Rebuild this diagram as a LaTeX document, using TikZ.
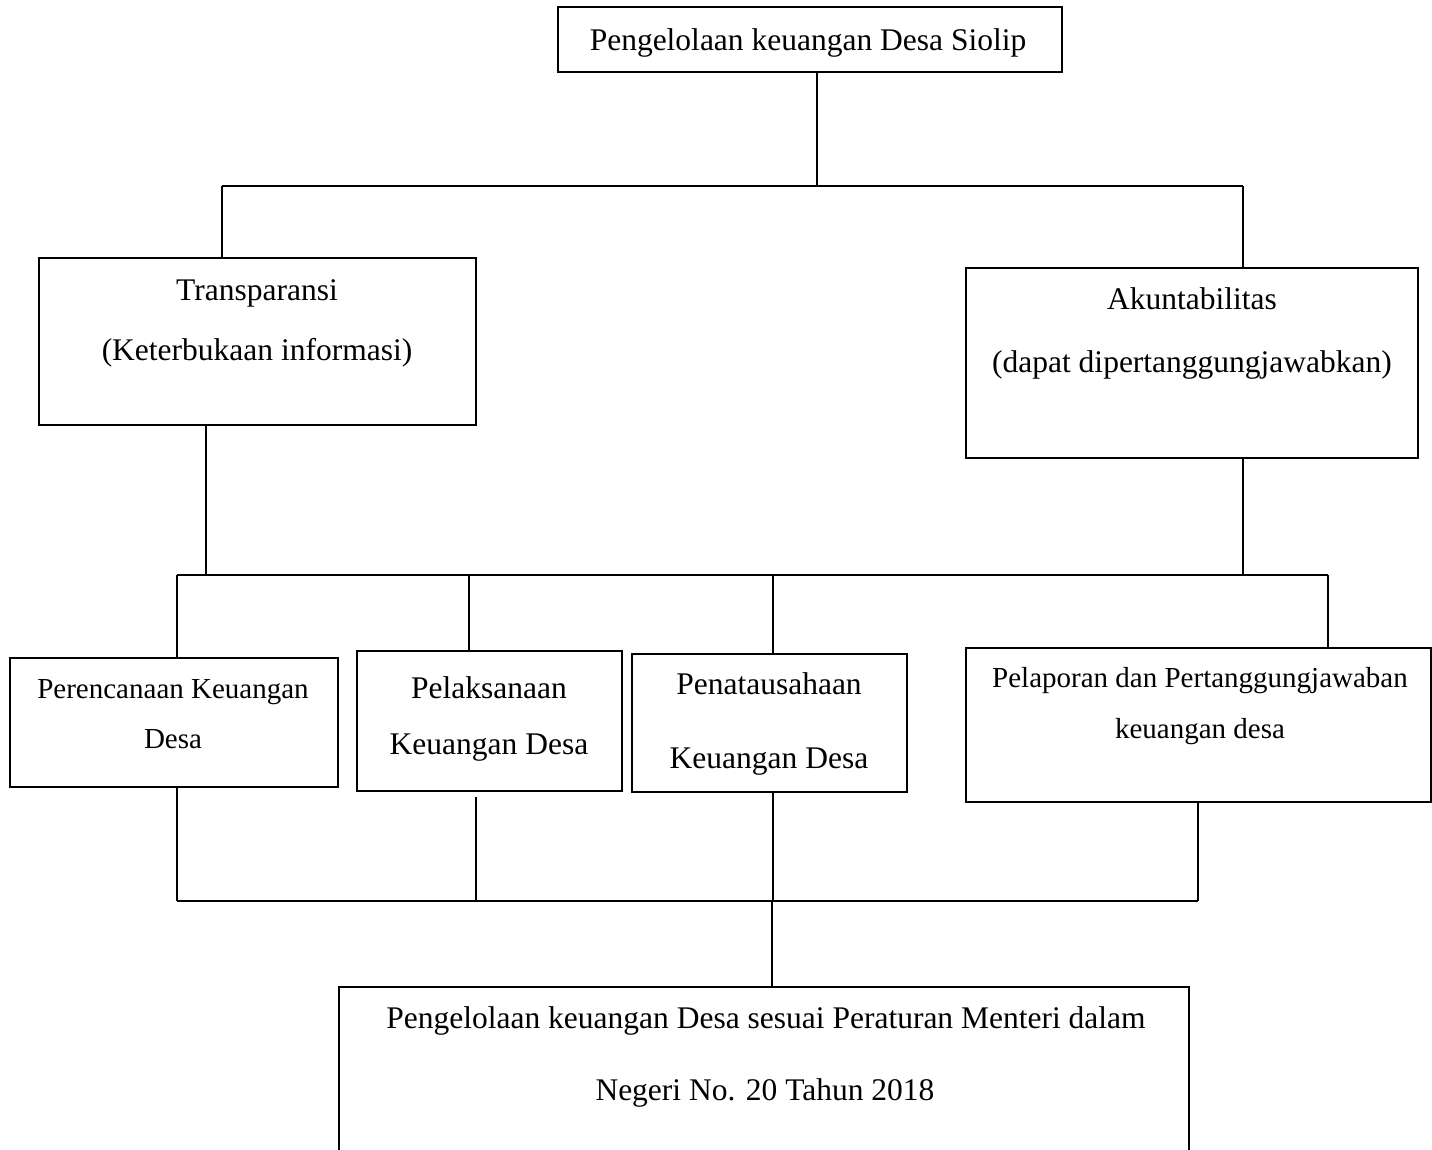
\documentclass[tikz,border=0pt]{standalone}
\usepackage{fontspec}
\setmainfont{Liberation Serif}
\begin{document}
\begin{tikzpicture}[x=1pt,y=-1pt,
  box/.style={draw,line width=1.3pt,inner sep=0pt},
  conn/.style={line width=1.3pt},
  txt/.style={inner sep=0pt,text height=0.66em,text depth=0pt,anchor=center,yshift=-7pt,font=\fontsize{31.5}{36}\selectfont},
  txts/.style={txt,font=\fontsize{29}{34}\selectfont}]
\path[use as bounding box,fill=white] (0,0) rectangle (1432,1149);
% boxes
\node[box,minimum width=504pt,minimum height=65pt] (top) at (810,39.5) {};
\node[box,minimum width=437pt,minimum height=167pt] (trans) at (257.5,341.5) {};
\node[box,minimum width=452pt,minimum height=190pt] (akun) at (1192,363) {};
\node[box,minimum width=328pt,minimum height=129pt] (pere) at (174,722.5) {};
\node[box,minimum width=265pt,minimum height=140pt] (pelak) at (489.5,721) {};
\node[box,minimum width=275pt,minimum height=138pt] (penat) at (769.5,723) {};
\node[box,minimum width=465pt,minimum height=154pt] (pelap) at (1198.5,725) {};
\node[box,minimum width=850pt,minimum height=180pt] (bot) at (764,1077) {};
% texts
\node[txt] (t1) at (808,40) {Pengelolaan keuangan Desa Siolip};
\node[txt] (t2) at (257,290) {Transparansi};
\node[txt] (t3) at (257,350) {(Keterbukaan informasi)};
\node[txt] (t4) at (1192,299) {Akuntabilitas};
\node[txt] (t5) at (1192,362) {(dapat dipertanggungjawabkan)};
\node[txts] (t6) at (173,688) {Perencanaan Keuangan};
\node[txts] (t7) at (173,738) {Desa};
\node[txt] (t8) at (489,688) {Pelaksanaan};
\node[txt] (t9) at (489,744) {Keuangan Desa};
\node[txt] (t10) at (769,684) {Penatausahaan};
\node[txt] (t11) at (769,758) {Keuangan Desa};
\node[txts] (t12) at (1200,677) {Pelaporan dan Pertanggungjawaban};
\node[txts] (t13) at (1200,728) {keuangan desa};
\node[txt] (t14) at (766,1018) {Pengelolaan keuangan Desa sesuai Peraturan Menteri dalam};
\node[txt] (t15) at (765,1090) {Negeri No. 20 Tahun 2018};
% junction coordinates
\coordinate (b1M) at (817,186);
\coordinate (b1L) at (222,186);
\coordinate (b1R) at (1243,186);
\coordinate (b2L) at (177,575);
\coordinate (b2R) at (1328,575);
\coordinate (b2T) at (206,575);
\coordinate (b2A) at (1243,575);
\coordinate (b2P) at (469,575);
\coordinate (b2N) at (773,575);
\coordinate (b3L) at (177,901);
\coordinate (b3R) at (1198,901);
\coordinate (b3P) at (476,901);
\coordinate (b3N) at (773,901);
\coordinate (b3M) at (772,901);
% connectors
\draw[conn] (b1M |- top.south) -- (b1M);
\draw[conn] (b1L) -- (b1R);
\draw[conn] (b1L) -- (b1L |- trans.north);
\draw[conn] (b1R) -- (b1R |- akun.north);
\draw[conn] (b2T |- trans.south) -- (b2T);
\draw[conn] (b2A |- akun.south) -- (b2A);
\draw[conn] (b2L) -- (b2R);
\draw[conn,line width=1.8pt] (b2L) -- (b2L |- pere.north);
\draw[conn] (b2P) -- (b2P |- pelak.north);
\draw[conn] (b2N) -- (b2N |- penat.north);
\draw[conn,line width=1.8pt] (b2R) -- (b2R |- pelap.north);
\draw[conn] (b3L |- pere.south) -- (b3L);
\draw[conn] ([yshift=-5pt]b3P |- pelak.south) -- (b3P);
\draw[conn] (b3N |- penat.south) -- (b3N);
\draw[conn] (b3R |- pelap.south) -- (b3R);
\draw[conn] (b3L) -- (b3R);
\draw[conn,line width=2pt] (b3M) -- (b3M |- bot.north);
\end{tikzpicture}
\end{document}
